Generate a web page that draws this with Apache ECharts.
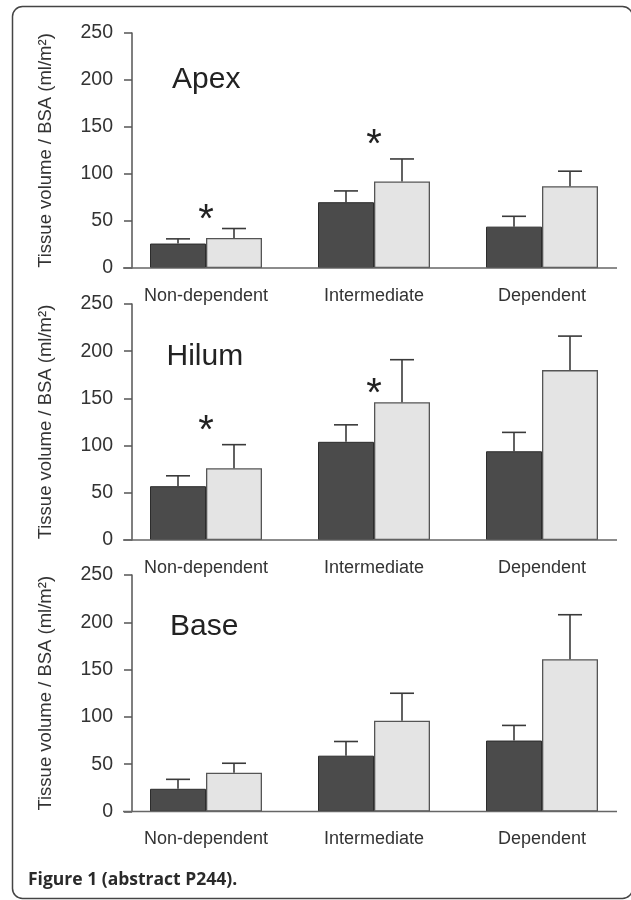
<!DOCTYPE html>
<html>
<head>
<meta charset="utf-8">
<script src="https://cdn.jsdelivr.net/npm/echarts@6/dist/echarts.min.js"></script>
<style>
html,body{margin:0;padding:0;background:#fff;}
#chart{width:631px;height:900px;}
</style>
</head>
<body>
<div id="chart"></div>
<script>
// ---- data ----
const categories = ['Non-dependent', 'Intermediate', 'Dependent'];
const panelTitles = ['Apex', 'Hilum', 'Base'];
const yAxisTitle = 'Tissue volume / BSA (ml/m²)';
const caption = 'Figure 1 (abstract P244).';
const yMin = 0, yMax = 250, yStep = 50;

const apexDark = [26, 70, 44];
const apexDarkErr = [31, 82, 55];
const apexLight = [32, 92, 87];
const apexLightErr = [42, 116, 103];
const apexStars = [[0, 61], [1, 141]];

const hilumDark = [57, 104, 94];
const hilumDarkErr = [68, 122, 114];
const hilumLight = [76, 146, 180];
const hilumLightErr = [101, 191, 216];
const hilumStars = [[0, 126], [1, 165]];

const baseDark = [24, 59, 75];
const baseDarkErr = [34, 74, 91];
const baseLight = [41, 96, 161];
const baseLightErr = [51, 125, 208];
const baseStars = [];

// ---- layout / style ----
const FONT = '"Liberation Sans", Arial, Helvetica, sans-serif';
const gridTops = [33, 304, 575];
const gridHeights = [235, 236, 236.5];
const GRID_LEFT = 122, GRID_WIDTH = 504;
const titlePos = [[172, 65], [166.5, 342], [170, 612]];
const BAR_W = 56, CAP = 24, STAR_FS = 40;

const panels = [
  {dark: apexDark, darkErr: apexDarkErr, light: apexLight, lightErr: apexLightErr, stars: apexStars},
  {dark: hilumDark, darkErr: hilumDarkErr, light: hilumLight, lightErr: hilumLightErr, stars: hilumStars},
  {dark: baseDark, darkErr: baseDarkErr, light: baseLight, lightErr: baseLightErr, stars: baseStars}
];

function renderErr(params, api) {
  const cat = api.value(0), side = api.value(3);
  const base = api.coord([cat, api.value(1)]);
  const top = api.coord([cat, api.value(2)]);
  const bw = api.size([1, 0])[0] / 3;
  const x = base[0] + (side === 0 ? -bw / 2 : bw / 2);
  const st = {stroke: '#3a3a3a', lineWidth: 1.6};
  return {type: 'group', children: [
    {type: 'line', shape: {x1: x, y1: base[1], x2: x, y2: top[1]}, style: st},
    {type: 'line', shape: {x1: x - CAP / 2, y1: top[1], x2: x + CAP / 2, y2: top[1]}, style: st}
  ]};
}
function renderStar(params, api) {
  const p = api.coord([api.value(0), api.value(1)]);
  return {type: 'text', x: p[0], y: p[1] + 0.27 * STAR_FS,
    style: {text: '*', fontSize: STAR_FS, fontFamily: FONT, fill: '#222', align: 'center', verticalAlign: 'middle'}};
}

const grid = [], xAxis = [], yAxis = [], series = [], title = [], graphic = [];
panels.forEach((p, i) => {
  grid.push({left: GRID_LEFT, width: GRID_WIDTH, top: gridTops[i], height: gridHeights[i]});
  xAxis.push({type: 'category', gridIndex: i, data: categories,
    axisLine: {show: false}, axisTick: {show: false},
    axisLabel: {color: '#333', fontSize: 18, fontFamily: FONT, margin: 19}});
  yAxis.push({type: 'value', gridIndex: i, min: yMin, max: yMax, interval: yStep, offset: -10,
    name: yAxisTitle, nameLocation: 'middle', nameGap: 77,
    nameTextStyle: {color: '#333', fontSize: 18.5, fontFamily: FONT},
    axisLine: {show: true, lineStyle: {color: '#555', width: 1.5}},
    axisTick: {show: true, length: 8, lineStyle: {color: '#555', width: 1.5}},
    axisLabel: {color: '#333', fontSize: 19.5, fontFamily: FONT, margin: 19},
    splitLine: {show: false}});
  series.push({type: 'bar', xAxisIndex: i, yAxisIndex: i, data: p.dark, barWidth: BAR_W, barGap: '0%',
    itemStyle: {color: '#4b4b4b', borderColor: '#2c2c2c', borderWidth: 1}, silent: true});
  series.push({type: 'bar', xAxisIndex: i, yAxisIndex: i, data: p.light, barWidth: BAR_W, barGap: '0%',
    itemStyle: {color: '#e4e4e4', borderColor: '#555', borderWidth: 1.3}, silent: true});
  const errData = [];
  categories.forEach((c, k) => {
    errData.push([k, p.dark[k], p.darkErr[k], 0]);
    errData.push([k, p.light[k], p.lightErr[k], 1]);
  });
  series.push({type: 'custom', xAxisIndex: i, yAxisIndex: i, data: errData, renderItem: renderErr,
    encode: {x: 0, y: [1, 2]}, z: 5, silent: true});
  if (p.stars.length) {
    series.push({type: 'custom', xAxisIndex: i, yAxisIndex: i, data: p.stars, renderItem: renderStar,
      encode: {x: 0, y: 1}, z: 6, silent: true});
  }
  title.push({text: panelTitles[i], left: titlePos[i][0], top: titlePos[i][1], padding: 0,
    textStyle: {fontSize: 30, fontWeight: 'normal', color: '#222', fontFamily: FONT}});
  const yb = gridTops[i] + gridHeights[i];
  graphic.push({type: 'line', z: 10, shape: {x1: 123, y1: yb, x2: 617, y2: yb},
    style: {stroke: '#666', lineWidth: 1.5}});
});
title.push({text: caption, left: 28, top: 871, padding: 0,
  textStyle: {fontSize: 17.5, fontWeight: 'bold', color: '#2a2a2a', fontFamily: '"Open Sans", sans-serif'}});
graphic.push({type: 'rect', z: 0, shape: {x: 12.5, y: 6.5, width: 620, height: 892, r: 10},
  style: {fill: 'none', stroke: '#444', lineWidth: 1.5}});

const chart = echarts.init(document.getElementById('chart'), null, {renderer: 'canvas'});
chart.setOption({animation: false, backgroundColor: '#fff', title, grid, xAxis, yAxis, series, graphic});
</script>
</body>
</html>
